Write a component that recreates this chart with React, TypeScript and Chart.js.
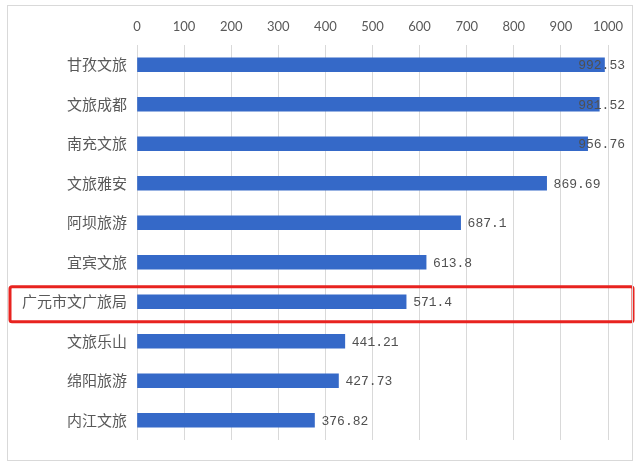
import { useEffect, useRef } from 'react';
import { Chart, registerables } from 'chart.js';

Chart.register(...registerables);

const names = ['甘孜文旅', '文旅成都', '南充文旅', '文旅雅安', '阿坝旅游', '宜宾文旅', '广元市文广旅局', '文旅乐山', '绵阳旅游', '内江文旅'];
const scores = [992.53, 981.52, 956.76, 869.69, 687.1, 613.8, 571.4, 441.21, 427.73, 376.82];
const highlightIndex = 6;

const labelPlugin = {
    id: 'valueLabels',
    afterDatasetsDraw: (chart: any) => {
        const { ctx } = chart;
        const meta = chart.getDatasetMeta(0);
        ctx.save();
        ctx.font = '13px "Liberation Mono", monospace';
        ctx.fillStyle = '#505050';
        ctx.textBaseline = 'middle';
        ctx.textAlign = 'left';
        meta.data.forEach((bar: any, i: number) => {
            const text = String(scores[i]);
            const w = ctx.measureText(text).width;
            const x = Math.min(bar.x + 7, 625 - w);
            ctx.fillText(text, x, bar.y + 1);
        });
        ctx.restore();
    },
};

const highlightPlugin = {
    id: 'highlightBox',
    afterDraw: (chart: any) => {
        const { ctx, scales } = chart;
        const y = scales.y.getPixelForValue(highlightIndex);
        ctx.save();
        ctx.strokeStyle = '#e8231f';
        ctx.lineWidth = 3;
        ctx.beginPath();
        ctx.roundRect(10, y - 15, 623, 35, 2);
        ctx.stroke();
        ctx.restore();
    },
};

export default function App() {
    const chartRef = useRef<HTMLCanvasElement>(null);

    useEffect(() => {
        const ctx = chartRef.current?.getContext('2d');
        if (!ctx) return;
        const chart = new Chart(ctx, {
            type: 'bar',
            data: {
                labels: names,
                datasets: [
                    {
                        data: scores,
                        backgroundColor: '#3569c8',
                        barThickness: 14,
                    },
                ],
            },
            options: {
                indexAxis: 'y',
                responsive: true,
                maintainAspectRatio: false,
                animation: false,
                layout: { padding: { left: 0, right: 32, top: 1, bottom: 30 } },
                scales: {
                    x: {
                        position: 'top',
                        min: 0,
                        max: 1000,
                        ticks: {
                            stepSize: 100,
                            color: '#595959',
                            padding: 10,
                            font: { family: 'Lato, sans-serif', size: 13 },
                            callback: (value: any) => `${Number(value)}`,
                        },
                        grid: { color: '#d9d9d9', drawTicks: false },
                        border: { display: false },
                        afterFit: (scale: any) => {
                            scale.height = 44;
                        },
                    },
                    y: {
                        ticks: {
                            color: '#595959',
                            padding: 10,
                            font: { family: '"Noto Sans CJK SC", sans-serif', size: 15 },
                        },
                        grid: { display: false, drawTicks: false },
                        border: { display: false },
                        afterFit: (scale: any) => {
                            scale.width = 137;
                        },
                    },
                },
                plugins: {
                    legend: { display: false },
                    tooltip: { enabled: false },
                },
            },
            plugins: [labelPlugin, highlightPlugin],
        });

        return () => {
            chart.destroy();
        };
    }, []);

    return (
        <div style={{ position: 'absolute', left: 0, top: 0, width: 640, height: 470, background: '#fff' }}>
            <div
                style={{
                    position: 'absolute',
                    left: 7,
                    top: 5,
                    width: 626,
                    height: 456,
                    boxSizing: 'border-box',
                    border: '1px solid #d9d9d9',
                }}
            />
            <canvas ref={chartRef} />
        </div>
    );
}
